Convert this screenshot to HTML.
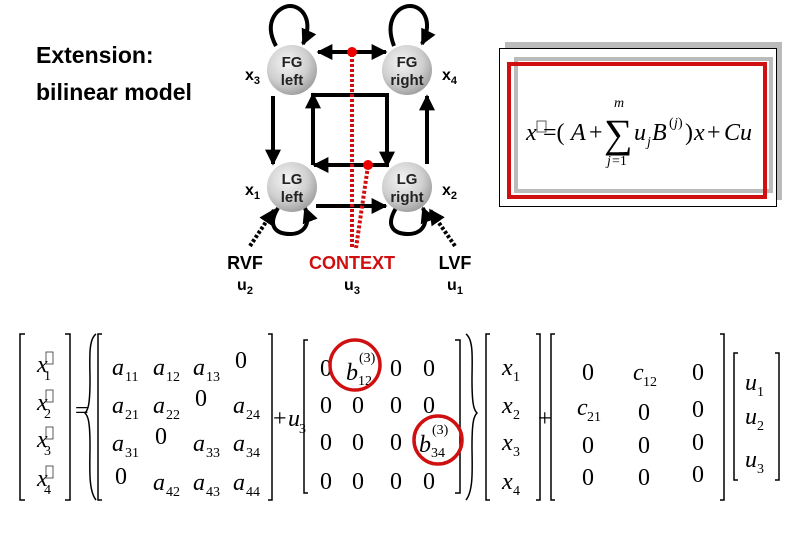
<!DOCTYPE html>
<html><head><meta charset="utf-8"><style>
html,body{margin:0;padding:0;background:#fff;width:810px;height:540px;overflow:hidden}
svg{display:block}
.m{font-family:"Liberation Serif",serif;font-style:italic;font-size:24px}
.n{font-family:"Liberation Serif",serif;font-size:24px;font-style:normal}
.s{font-family:"Liberation Serif",serif;font-size:14px;font-style:normal}
.l{font-family:"Liberation Sans",sans-serif;font-weight:bold}
</style></head><body>
<svg width="810" height="540" viewBox="0 0 810 540" xmlns="http://www.w3.org/2000/svg">
<defs>
<radialGradient id="g" cx="0.4" cy="0.35" r="0.7">
<stop offset="0" stop-color="#f4f4f4"/><stop offset="0.6" stop-color="#cfcfcf"/><stop offset="1" stop-color="#9a9a9a"/>
</radialGradient>
<marker id="a" viewBox="0 0 10 10" refX="9" refY="5" markerWidth="4" markerHeight="4" orient="auto"><path d="M0,0L10,5L0,10z" fill="#000"/></marker>
</defs>
<text x="36" y="63" font-family="'Liberation Sans','Noto Sans CJK JP',sans-serif" font-size="23" font-weight="bold">Extension:</text>
<text x="36" y="100" font-family="'Liberation Sans','Noto Sans CJK JP',sans-serif" font-size="23" font-weight="bold">bilinear model</text>

<g stroke="#000" stroke-width="4" fill="none">
<path d="M276,46 C262,20 280,6 290,6 C302,6 314,20 303,44" marker-end="url(#a)"/>
<path d="M394,46 C384,20 398,6 410,6 C422,6 434,20 422,44" marker-end="url(#a)"/>
<path d="M278,208 C266,228 278,234 290,234 C302,234 312,226 305,208" marker-end="url(#a)"/>
<path d="M396,208 C384,228 396,234 408,234 C420,234 430,226 423,208" marker-end="url(#a)"/>
<line x1="350" y1="52" x2="318" y2="52" marker-end="url(#a)"/>
<line x1="350" y1="52" x2="386" y2="52" marker-end="url(#a)"/>
<line x1="313" y1="165" x2="313" y2="94" marker-end="url(#a)"/>
<line x1="311" y1="95" x2="389" y2="95"/>
<line x1="387" y1="95" x2="387" y2="166" marker-end="url(#a)"/>
<line x1="389" y1="165" x2="314" y2="165" marker-end="url(#a)"/>
<line x1="273" y1="96" x2="273" y2="164" marker-end="url(#a)"/>
<line x1="427" y1="164" x2="427" y2="96" marker-end="url(#a)"/>
<line x1="316" y1="206" x2="386" y2="206" marker-end="url(#a)"/>
<line x1="250" y1="246" x2="274" y2="210" stroke-dasharray="3,2" marker-end="url(#a)"/>
<line x1="455" y1="246" x2="430" y2="210" stroke-dasharray="3,2" marker-end="url(#a)"/>
</g>
<g fill="url(#g)">
<circle cx="292" cy="70" r="25"/><circle cx="407" cy="70" r="25"/>
<circle cx="292" cy="187" r="25"/><circle cx="407" cy="187" r="25"/>
</g>
<g stroke="#d01010" stroke-width="4" stroke-dasharray="3,2" fill="none">
<line x1="352" y1="54" x2="352" y2="248"/>
<line x1="368" y1="166" x2="356" y2="248"/>
</g>
<circle cx="352" cy="52" r="5" fill="#e00"/>
<circle cx="368" cy="165" r="5" fill="#e00"/>
<g class="l" font-size="15" text-anchor="middle" fill="#222">
<text x="292" y="67">FG</text><text x="292" y="85">left</text>
<text x="407" y="67">FG</text><text x="407" y="85">right</text>
<text x="292" y="184">LG</text><text x="292" y="202">left</text>
<text x="407" y="184">LG</text><text x="407" y="202">right</text>
</g>
<g class="l" font-size="16">
<text x="245" y="80">x<tspan font-size="11" dy="4">3</tspan></text>
<text x="442" y="80">x<tspan font-size="11" dy="4">4</tspan></text>
<text x="245" y="195">x<tspan font-size="11" dy="4">1</tspan></text>
<text x="442" y="195">x<tspan font-size="11" dy="4">2</tspan></text>
</g>
<g class="l" font-size="18" text-anchor="middle">
<text x="245" y="269">RVF</text>
<text x="352" y="269" fill="#d01010">CONTEXT</text>
<text x="455" y="269">LVF</text>
</g>
<g class="l" font-size="16" text-anchor="middle">
<text x="245" y="290">u<tspan font-size="11" dy="4">2</tspan></text>
<text x="352" y="290">u<tspan font-size="11" dy="4">3</tspan></text>
<text x="455" y="290">u<tspan font-size="11" dy="4">1</tspan></text>
</g>

<rect x="505" y="42" width="277" height="158" fill="#bbb"/>
<rect x="499.5" y="48.5" width="277" height="158" fill="#fff" stroke="#000"/>
<rect x="516" y="59" width="255" height="132" fill="none" stroke="#bbb" stroke-width="4"/>
<rect x="509" y="64" width="256" height="133" fill="none" stroke="#d01010" stroke-width="4"/>
<g class="m" font-size="26">
<text x="526" y="140">x</text>
<rect x="537" y="121" width="9" height="11" fill="none" stroke="#333" stroke-width="0.8"/>
<text x="543" y="140" font-style="normal">=(</text>
<text x="571" y="140">A</text>
<text x="589" y="140" font-style="normal">+</text>
<text x="604" y="147" font-style="normal" font-size="40">∑</text>
<text x="614" y="107" font-size="14">m</text>
<text x="607" y="165" font-size="14">j</text><text x="612" y="165" font-size="14" font-style="normal">=1</text>
<text x="634" y="140">u</text><text x="647" y="146" font-size="14">j</text>
<text x="652" y="140">B</text>
<text x="669" y="127" font-size="14" font-style="normal">(</text><text x="674" y="127" font-size="14">j</text><text x="678" y="127" font-size="14" font-style="normal">)</text>
<text x="685" y="140" font-style="normal">)</text>
<text x="694" y="140">x</text>
<text x="707" y="140" font-style="normal">+</text>
<text x="724" y="140">Cu</text>
</g>

<g stroke="#000" stroke-width="1.5" fill="none">
<path d="M25,334 H20 V500 H25"/><path d="M65,334 H70 V500 H65"/>
<path d="M102,334 H98 V500 H102"/><path d="M268,334 H272 V500 H268"/>
<path d="M308,340 H304 V493 H308"/><path d="M455,340 H460 V493 H455"/>
<path d="M490,334 H486 V500 H490"/><path d="M536,334 H540 V500 H536"/>
<path d="M555,334 H551 V500 H555"/><path d="M720,334 H724 V500 H720"/>
<path d="M738,353 H734 V480 H738"/><path d="M775,353 H779 V480 H775"/>
<path d="M96,334 C88,340 90,360 90,380 C90,405 88,410 85,413 C88,416 90,421 90,446 C90,466 88,490 96,500"/>
<path d="M466,334 C474,340 472,360 472,380 C472,405 474,410 477,413 C474,416 472,421 472,446 C472,466 474,490 466,500"/>
</g>
<g class="m">
<text x="37" y="372">x</text><text x="44" y="380" class="s">1</text>
<text x="37" y="410">x</text><text x="44" y="418" class="s">2</text>
<text x="37" y="447">x</text><text x="44" y="455" class="s">3</text>
<text x="37" y="486">x</text><text x="44" y="494" class="s">4</text>
</g>
<g fill="none" stroke="#333" stroke-width="0.8">
<rect x="46" y="352" width="7" height="12"/><rect x="46" y="390" width="7" height="12"/>
<rect x="46" y="427" width="7" height="12"/><rect x="46" y="466" width="7" height="12"/>
</g>
<text x="75" y="418" class="n">=</text>
<g class="m">
<text x="112" y="375">a</text><text x="125" y="381" class="s">11</text>
<text x="153" y="375">a</text><text x="166" y="381" class="s">12</text>
<text x="193" y="375">a</text><text x="206" y="381" class="s">13</text>
<text x="235" y="368" class="n">0</text>
<text x="112" y="413">a</text><text x="125" y="419" class="s">21</text>
<text x="153" y="413">a</text><text x="166" y="419" class="s">22</text>
<text x="195" y="406" class="n">0</text>
<text x="233" y="413">a</text><text x="246" y="419" class="s">24</text>
<text x="112" y="451">a</text><text x="125" y="457" class="s">31</text>
<text x="155" y="444" class="n">0</text>
<text x="193" y="451">a</text><text x="206" y="457" class="s">33</text>
<text x="233" y="451">a</text><text x="246" y="457" class="s">34</text>
<text x="115" y="484" class="n">0</text>
<text x="153" y="490">a</text><text x="166" y="496" class="s">42</text>
<text x="193" y="490">a</text><text x="206" y="496" class="s">43</text>
<text x="233" y="490">a</text><text x="246" y="496" class="s">44</text>
</g>
<text x="273" y="426" class="n">+</text>
<text x="288" y="426" class="m">u</text><text x="299" y="433" class="s">3</text>
<g class="n">
<text x="320" y="376">0</text><text x="390" y="376">0</text><text x="423" y="376">0</text>
<text x="320" y="413">0</text><text x="352" y="413">0</text><text x="390" y="413">0</text><text x="423" y="413">0</text>
<text x="320" y="450">0</text><text x="352" y="450">0</text><text x="390" y="450">0</text>
<text x="320" y="489">0</text><text x="352" y="489">0</text><text x="390" y="489">0</text><text x="423" y="489">0</text>
</g>
<text x="346" y="380" class="m">b</text><text x="359" y="362" class="s" font-size="11">(3)</text><text x="358" y="385" class="s" font-size="12">12</text>
<text x="419" y="452" class="m">b</text><text x="432" y="434" class="s" font-size="11">(3)</text><text x="431" y="457" class="s" font-size="12">34</text>
<circle cx="355" cy="365" r="25" fill="none" stroke="#d01010" stroke-width="3.5"/>
<circle cx="438" cy="440" r="24" fill="none" stroke="#d01010" stroke-width="3.5"/>
<g class="m">
<text x="502" y="375">x</text><text x="513" y="381" class="s">1</text>
<text x="502" y="413">x</text><text x="513" y="419" class="s">2</text>
<text x="502" y="450">x</text><text x="513" y="456" class="s">3</text>
<text x="502" y="489">x</text><text x="513" y="495" class="s">4</text>
</g>
<text x="538" y="426" class="n">+</text>
<g class="n">
<text x="582" y="380">0</text><text x="692" y="380">0</text>
<text x="638" y="420">0</text><text x="692" y="417">0</text>
<text x="582" y="453">0</text><text x="638" y="453">0</text><text x="692" y="450">0</text>
<text x="582" y="485">0</text><text x="638" y="485">0</text><text x="692" y="482">0</text>
</g>
<text x="633" y="380" class="m">c</text><text x="643" y="386" class="s">12</text>
<text x="577" y="415" class="m">c</text><text x="587" y="421" class="s">21</text>
<text x="745" y="390" class="m">u</text><text x="757" y="396" class="s">1</text>
<text x="745" y="424" class="m">u</text><text x="757" y="430" class="s">2</text>
<text x="745" y="467" class="m">u</text><text x="757" y="473" class="s">3</text>
</svg>
</body></html>
